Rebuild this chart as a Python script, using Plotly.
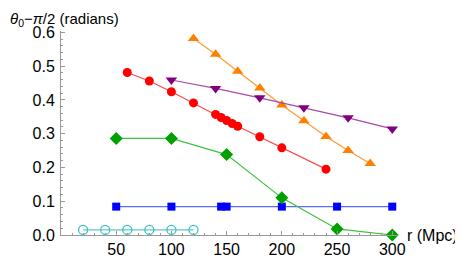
import plotly.graph_objects as go

# Data
cyan_r = [20, 40, 60, 80, 100, 120]
cyan_y = [0.015, 0.015, 0.015, 0.015, 0.015, 0.015]

blue_r = [50, 100, 145, 150, 200, 250, 300]
blue_y = [0.084, 0.084, 0.084, 0.084, 0.084, 0.084, 0.084]

green_r = [50, 100, 150, 200, 250, 300]
green_y = [0.286, 0.286, 0.238, 0.110, 0.018, 0.0]

red_r = [60, 80, 100, 120, 140, 145, 150, 155, 160, 180, 200, 240]
red_y = [0.481, 0.456, 0.424, 0.391, 0.357, 0.348, 0.339, 0.330, 0.322, 0.291, 0.258, 0.195]

orange_r = [120, 140, 160, 180, 200, 220, 240, 260, 280]
orange_y = [0.582, 0.535, 0.485, 0.435, 0.385, 0.338, 0.292, 0.250, 0.212]

purple_r = [100, 140, 180, 220, 260, 300]
purple_y = [0.459, 0.434, 0.406, 0.377, 0.347, 0.314]

x_ticks = [50, 100, 150, 200, 250, 300]
y_ticks = [0.0, 0.1, 0.2, 0.3, 0.4, 0.5, 0.6]
y_tick_labels = ["0.0", "0.1", "0.2", "0.3", "0.4", "0.5", "0.6"]

series = [
    (cyan_r, cyan_y, "circle-open", 9, "#3fbfbf", "#5cc9c9"),
    (blue_r, blue_y, "square", 8, "#0000ff", "#5a6bff"),
    (green_r, green_y, "diamond", 10, "#00a000", "#3cc43c"),
    (red_r, red_y, "circle", 9, "#ff0000", "#ff4a4a"),
    (orange_r, orange_y, "triangle-up", 10, "#ff8000", "#ff9a33"),
    (purple_r, purple_y, "triangle-down", 10, "#800080", "#a848a8"),
]

fig = go.Figure()
for xs, ys, sym, sz, mc, lc in series:
    marker = dict(symbol=sym, size=sz, color=mc)
    if sym.endswith("open"):
        marker["line"] = dict(width=1.3, color=mc)
    else:
        marker["line"] = dict(width=0)
    fig.add_trace(go.Scatter(
        x=xs, y=ys, mode="lines+markers",
        line=dict(color=lc, width=1.2),
        marker=marker, cliponaxis=False, showlegend=False,
    ))

axis_color = "#9a9a9a"
font_family = "Liberation Sans, Arial, sans-serif"

# The page body adds an 8px margin, so the figure is drawn 8px smaller.
W, H = 455, 251
L, R, T, B = 53, 65, 23, 24
PW, PH = W - L - R, H - T - B

fig.update_layout(
    width=W, height=H,
    margin=dict(l=L, r=R, t=T, b=B, autoexpand=False),
    paper_bgcolor="white", plot_bgcolor="white",
    font=dict(family=font_family, size=16, color="black"),
    xaxis=dict(
        range=[0, 305.2], showgrid=False, zeroline=False, automargin=False,
        showline=True, linecolor=axis_color, linewidth=1,
        ticks="inside", ticklen=4, tickcolor=axis_color, tickwidth=1,
        tickvals=x_ticks, ticktext=[str(v) for v in x_ticks],
        minor=dict(dtick=10, tick0=0, ticks="inside", ticklen=2, tickcolor=axis_color, showgrid=False),
        tickfont=dict(size=16),
    ),
    yaxis=dict(
        range=[0, 0.604], showgrid=False, zeroline=False, automargin=False,
        showline=True, linecolor=axis_color, linewidth=1,
        ticks="inside", ticklen=4, tickcolor=axis_color, tickwidth=1,
        tickvals=y_ticks, ticktext=y_tick_labels,
        minor=dict(dtick=0.02, tick0=0, ticks="inside", ticklen=2, tickcolor=axis_color, showgrid=False),
        tickfont=dict(size=16), ticklabelstandoff=2,
    ),
    annotations=[
        dict(text="<i>θ</i><sub>0</sub>−<i>π</i>/2 (radians)", xref="paper", yref="paper",
             x=-L / PW, y=1 + T / PH, xanchor="left", yanchor="top",
             showarrow=False, font=dict(size=15, family=font_family)),
        dict(text="r (Mpc)", xref="paper", yref="paper",
             x=1.021, y=0, xanchor="left", yanchor="middle",
             showarrow=False, font=dict(size=16, family=font_family)),
    ],
)

fig.write_html("out.html")
